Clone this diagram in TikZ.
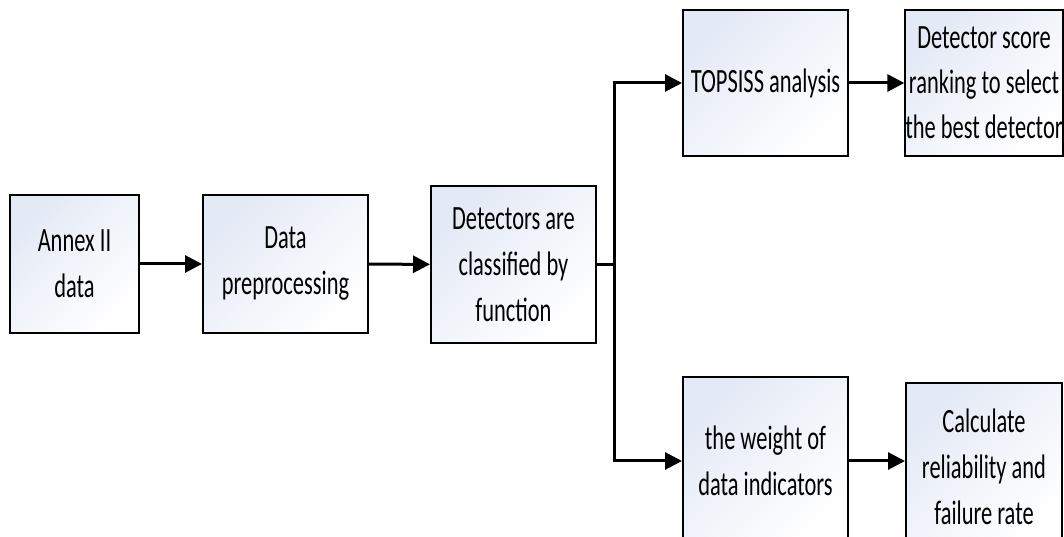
\documentclass[tikz,border=0pt]{standalone}
\usepackage{fontspec}
\setmainfont{Carlito}[FakeStretch=0.66]
\usepackage{tikz}
\usetikzlibrary{arrows.meta}
\usetikzlibrary{positioning, shadows}
\definecolor{boxtint}{HTML}{E3E9F5}

\begin{document}
\begin{tikzpicture}[x=1pt, y=1pt,
		box/.style = {draw, line width=2pt, top color=boxtint, bottom color=white, shading angle=45,
			drop shadow={shadow xshift=1pt, shadow yshift=-1pt, fill=gray!70},
			align=center, inner sep=0pt, font=\fontsize{34}{46}\selectfont},
		flow/.style = {line width=3pt, -{Triangle[length=17pt, width=17pt]}}]
			\useasboundingbox (0,0) rectangle (1064,537);
			\begin{scope}
				\clip (0,0) rectangle (1064,537);
				\node[box, minimum width=129pt, minimum height=138pt] (annex) at (74.5,273) {Annex II\\data};
				\node[box, minimum width=165pt, minimum height=138pt] (prep) at (285.5,273) {Data\\preprocessing};
				\node[box, minimum width=165pt, minimum height=157pt] (cls) at (513.5,272.5) {Detectors are\\classified by\\function};
				\node[box, minimum width=165pt, minimum height=146pt] (topsis) at (765.5,454) {TOPSISS analysis};
				\node[box, minimum width=156pt, minimum height=146pt, font=\fontsize{34}{45}\selectfont] (score) at (984,454) {Detector score\\ranking to select\\the best detector};
				\node[box, minimum width=165pt, minimum height=168pt] (weight) at (765.5,76) {the weight of\\data indicators};
				\node[box, minimum width=156pt, minimum height=167pt] (calc) at (984,70.5) {Calculate\\reliability and\\failure rate};
				\coordinate (split) at (614,272.5);
				
				\draw[flow] (annex) -- (prep);
				\draw[flow] (prep) -- (cls);
				\draw[line width=3pt] (cls.east) -- (split);
				\draw[flow] (split) |- (topsis.west);
				\draw[flow] (split) |- (weight.west);
				\draw[flow] (topsis) -- (score);
				\draw[flow] (weight.east) -- (weight.east -| calc.west);
			\end{scope}
		\end{tikzpicture}
\end{document}
